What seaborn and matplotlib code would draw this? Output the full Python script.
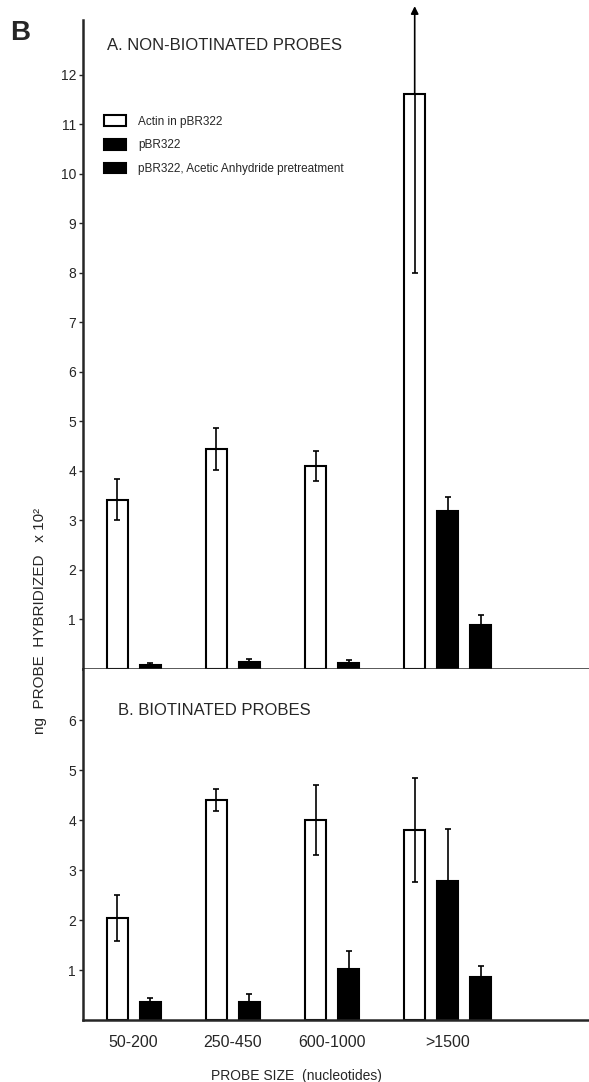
import numpy as np
import pandas as pd
import matplotlib
matplotlib.use("Agg")
import matplotlib.pyplot as plt
from matplotlib.container import BarContainer
import seaborn as sns

# ---------------- data ----------------
categories = ["50-200", "250-450", "600-1000", ">1500"]
series = ["Actin in pBR322", "pBR322", "pBR322, Acetic Anhydride pretreatment"]

# Panel A: non-biotinated probes (ng x 10^2)
a_actin = [3.42, 4.44, 4.10, 11.60]
a_actin_err = [0.42, 0.42, 0.30, 3.60]
a_pbr = [0.08, 0.14, 0.12, 3.18]
a_pbr_err = [0.04, 0.06, 0.06, 0.30]
a_acetic = [np.nan, np.nan, np.nan, 0.88]
a_acetic_err = [np.nan, np.nan, np.nan, 0.20]
a_actin_offscale = [False, False, False, True]   # upper error beyond scale

# Panel B: biotinated probes (ng x 10^2)
b_actin = [2.05, 4.40, 4.00, 3.80]
b_actin_err = [0.46, 0.22, 0.70, 1.04]
b_pbr = [0.36, 0.36, 1.02, 2.78]
b_pbr_err = [0.08, 0.16, 0.37, 1.04]
b_acetic = [np.nan, np.nan, np.nan, 0.86]
b_acetic_err = [np.nan, np.nan, np.nan, 0.22]

panel_titles = ["A. NON-BIOTINATED PROBES", "B. BIOTINATED PROBES"]
a_yticks = list(range(1, 13))
b_yticks = list(range(1, 7))


def long_df(vals, errs):
    rows = []
    for s, vl, el in zip(series, vals, errs):
        for c, v, e in zip(categories, vl, el):
            if not np.isnan(v):
                rows.append({"group": c, "probe": s, "value": v, "err": e})
    return pd.DataFrame(rows)


df_a = long_df([a_actin, a_pbr, a_acetic], [a_actin_err, a_pbr_err, a_acetic_err])
df_b = long_df([b_actin, b_pbr, b_acetic], [b_actin_err, b_pbr_err, b_acetic_err])

# ---------------- style ----------------
sns.set_style("ticks")
plt.rcParams["font.family"] = ["Liberation Sans Narrow", "Liberation Sans", "DejaVu Sans"]
plt.rcParams["axes.linewidth"] = 1.8

fig = plt.figure(figsize=(5.89, 10.82), dpi=100)
ax_a = fig.add_axes([0.141, 0.3817, 0.859, 0.5998])
ax_b = fig.add_axes([0.141, 0.0573, 0.859, 0.3244])

palette = {series[0]: "white", series[1]: "black", series[2]: "black"}
xlim = (-0.677, 4.424)

group_centers = {}
for ax, df, legend, offscale in ((ax_a, df_a, True, a_actin_offscale),
                                 (ax_b, df_b, False, [False] * 4)):
    sns.barplot(data=df, x="group", y="value", hue="probe", order=categories,
                hue_order=series, palette=palette, saturation=1,
                edgecolor="black", linewidth=1.5, width=1.0, gap=0.36,
                errorbar=None, legend=legend, ax=ax)
    centers = {i: [] for i in range(len(categories))}
    bar_conts = [c for c in ax.containers if isinstance(c, BarContainer)]
    for cont in bar_conts:
        for patch in list(cont.patches):
            cx = patch.get_x() + patch.get_width() / 2
            h = patch.get_height()
            if not np.isfinite(h):
                continue
            g = int(round(cx))
            hi = int(round((cx - g) * 3)) + 1
            centers[g].append(cx)
            row = df[(df["group"] == categories[g]) & (df["probe"] == series[hi])]
            if row.empty:
                continue
            e = float(row["err"].iloc[0])
            up = 0.0 if (hi == 0 and offscale[g]) else e
            ax.errorbar([cx], [h], yerr=[[e], [up]], fmt="none", ecolor="black",
                        elinewidth=1.2, capsize=2.5, capthick=1.2, zorder=3)
            if hi == 0 and offscale[g]:
                ax.annotate("", xy=(cx, 13.38), xytext=(cx, h),
                            arrowprops=dict(arrowstyle="-|>", color="black",
                                            lw=1.2, mutation_scale=11,
                                            shrinkA=0, shrinkB=0),
                            annotation_clip=False)
    group_centers[id(ax)] = centers
    ax.set_xlim(*xlim)
    ax.set_xlabel("")
    ax.set_ylabel("")
    sns.despine(ax=ax, top=True, right=True)
    ax.tick_params(axis="y", direction="out", length=3, width=1, labelsize=10, pad=2)

ax_a.set_ylim(0, 13.1)
ax_a.set_yticks(a_yticks)
ax_a.set_yticklabels([str(t) for t in a_yticks])
ax_a.set_xticks([])

ax_b.set_ylim(0, 7.02)
ax_b.set_yticks(b_yticks)
ax_b.set_yticklabels([str(t) for t in b_yticks])
cb = group_centers[id(ax_b)]
ax_b.set_xticks([np.mean(cb[i]) for i in range(len(categories))])
ax_b.set_xticklabels(categories)
ax_b.tick_params(axis="x", length=0, labelsize=11.5, pad=11)

ax_a.text(0.047, 0.961, panel_titles[0], transform=ax_a.transAxes,
          fontsize=12, ha="left", va="center")
ax_b.text(0.069, 0.883, panel_titles[1], transform=ax_b.transAxes,
          fontsize=12, ha="left", va="center")

sns.move_legend(ax_a, "upper left", bbox_to_anchor=(0.0415, 0.853), frameon=False,
                title=None, fontsize=8.5, handlelength=1.87, handleheight=1.0,
                labelspacing=0.95, handletextpad=1.0, borderaxespad=0, borderpad=0)

ax_b.set_xlabel("PROBE SIZE  (nucleotides)", fontsize=10)
ax_b.xaxis.set_label_coords(0.421, -0.14)

fig.text(40 / 589, 1 - 621 / 1082, "ng  PROBE  HYBRIDIZED   x 10²", rotation=90,
         ha="center", va="center", fontsize=11)
fig.text(10 / 589, 1 - 33 / 1082, "B", fontsize=20, fontweight="bold",
         family=["Liberation Sans", "DejaVu Sans"], ha="left", va="center")

fig.savefig("out.png", dpi=100)
